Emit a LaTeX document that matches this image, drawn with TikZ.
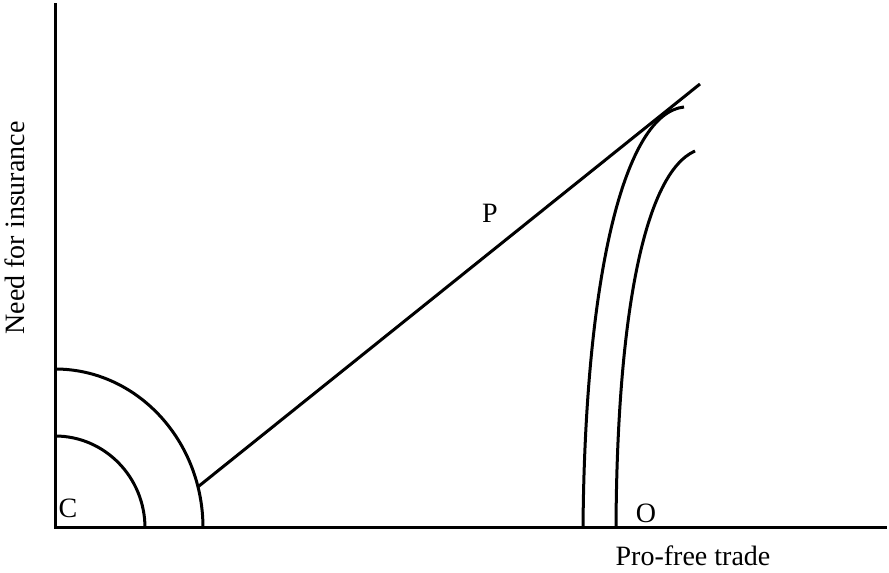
\documentclass[tikz,border=0pt]{standalone}
\usepackage{fontspec}
\setmainfont{Liberation Serif}
\begin{document}
\begin{tikzpicture}[x=1pt,y=1pt,
  curve/.style={line width=3pt},
  lbl/.style={font=\fontsize{28}{32}\selectfont, inner sep=0pt}]
\useasboundingbox (0,0) rectangle (889,573);
\coordinate (origin) at (55,45);
\coordinate (ytop) at (55,568);
\coordinate (xend) at (885,45);
\draw[curve, line cap=rect] (ytop) -- (origin) -- (xend);
% C arcs
\coordinate (cout) at (55,204);
\coordinate (cin) at (55,137);
\draw[curve] (cout) arc[start angle=90, end angle=0, x radius=148, y radius=159];
\draw[curve] (cin) arc[start angle=90, end angle=0, x radius=90, y radius=92];
\coordinate (pstart) at ({55+148*cos(15)},{45+159*sin(15)});
\coordinate (pend) at (700,489);
\draw[curve] (pstart) -- (pend);
% O curves
\coordinate (o1b) at (583,45);
\coordinate (o1t) at (684,466);
\coordinate (o2b) at (616,45);
\coordinate (o2t) at (695,422);
\draw[curve] (o1b) .. controls (585,300) and (625,460) .. (o1t);
\draw[curve] (o2b) .. controls (617,260) and (645,400) .. (o2t);
% labels
\node[lbl] (C) at (68,65) {C};
\node[lbl] (O) at (646,60) {O};
\node[lbl] (P) at (490,360) {P};
\node[lbl] (xl) at (693,17) {Pro-free trade};
\node[lbl, rotate=90] (yl) at (15,345) {Need for insurance};
\end{tikzpicture}
\end{document}
